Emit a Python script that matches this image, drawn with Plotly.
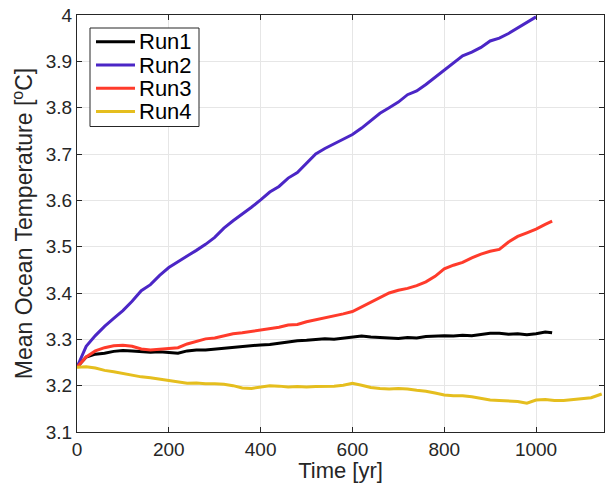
import plotly.graph_objects as go

run1_x = [0,20,40,60,80,100,120,140,160,180,200,220,240,260,280,300,320,340,360,380,400,420,440,460,480,500,520,540,560,580,600,620,640,660,680,700,720,740,760,780,800,820,840,860,880,900,920,940,960,980,1000,1020,1035]
run1_y = [3.240,3.262,3.268,3.270,3.274,3.276,3.275,3.274,3.272,3.273,3.271,3.270,3.275,3.277,3.277,3.279,3.280,3.283,3.284,3.286,3.288,3.289,3.292,3.294,3.297,3.298,3.299,3.301,3.300,3.302,3.305,3.307,3.305,3.304,3.303,3.302,3.304,3.303,3.306,3.307,3.308,3.307,3.309,3.308,3.310,3.313,3.313,3.311,3.312,3.310,3.312,3.316,3.314]

run2_x = [0,20,40,60,80,100,120,140,160,180,200,220,240,260,280,300,320,340,360,380,400,420,440,460,480,500,520,540,560,580,600,620,640,660,680,700,720,740,760,780,800,820,840,860,880,900,920,940,960,980,1000]
run2_y = [3.240,3.285,3.308,3.328,3.345,3.362,3.382,3.405,3.418,3.438,3.455,3.468,3.480,3.492,3.505,3.520,3.540,3.556,3.570,3.585,3.601,3.618,3.630,3.648,3.660,3.680,3.700,3.712,3.722,3.732,3.742,3.756,3.772,3.788,3.800,3.812,3.828,3.836,3.850,3.866,3.880,3.897,3.912,3.920,3.930,3.944,3.950,3.960,3.972,3.985,3.996]

run3_x = [0,20,40,60,80,100,120,140,160,180,200,220,240,260,280,300,320,340,360,380,400,420,440,460,480,500,520,540,560,580,600,620,640,660,680,700,720,740,760,780,800,820,840,860,880,900,920,940,960,980,1000,1020,1035]
run3_y = [3.240,3.262,3.275,3.282,3.286,3.287,3.285,3.279,3.277,3.279,3.280,3.282,3.290,3.296,3.301,3.303,3.307,3.312,3.314,3.317,3.320,3.322,3.326,3.331,3.332,3.338,3.342,3.346,3.350,3.355,3.360,3.370,3.380,3.390,3.400,3.406,3.410,3.416,3.424,3.436,3.452,3.460,3.466,3.476,3.484,3.490,3.494,3.510,3.522,3.530,3.538,3.548,3.555]

run4_x = [0,20,40,60,80,100,120,140,160,180,200,220,240,260,280,300,320,340,360,380,400,420,440,460,480,500,520,540,560,580,600,620,640,660,680,700,720,740,760,780,800,820,840,860,880,900,920,940,960,980,1000,1020,1040,1060,1080,1100,1120,1143]
run4_y = [3.240,3.241,3.238,3.233,3.230,3.226,3.222,3.219,3.217,3.214,3.212,3.208,3.205,3.206,3.204,3.204,3.203,3.200,3.195,3.194,3.197,3.200,3.199,3.197,3.198,3.197,3.198,3.198,3.199,3.201,3.205,3.201,3.196,3.194,3.193,3.194,3.193,3.190,3.188,3.184,3.180,3.178,3.178,3.176,3.172,3.169,3.168,3.167,3.166,3.162,3.169,3.170,3.168,3.168,3.170,3.172,3.174,3.182]

names = ["Run1", "Run2", "Run3", "Run4"]
colors = ["#000000", "#4B26C6", "#FF3B2B", "#E5BE1E"]
xs = [run1_x, run2_x, run3_x, run4_x]
ys = [run1_y, run2_y, run3_y, run4_y]

x_ticks = [0, 200, 400, 600, 800, 1000]
y_ticks = [3.1, 3.2, 3.3, 3.4, 3.5, 3.6, 3.7, 3.8, 3.9, 4.0]
y_tick_labels = ["3.1", "3.2", "3.3", "3.4", "3.5", "3.6", "3.7", "3.8", "3.9", "4"]

W, H = 607, 483
ML, MR, MT, MB = 77, 3, 15, 51
PW, PH = W - ML - MR, H - MT - MB
FONT = "Liberation Sans, Arial, sans-serif"
INK = "#262626"


def px2paper(px, py):
    return (px - ML) / PW, (H - MB - py) / PH


fig = go.Figure()
for x, y, n, c in zip(xs, ys, names, colors):
    fig.add_trace(go.Scatter(x=x, y=y, name=n, mode="lines",
                             line=dict(color=c, width=3), showlegend=False))

axis_common = dict(
    showline=True, linecolor=INK, linewidth=1, mirror="ticks",
    ticks="inside", ticklen=5, tickcolor=INK, automargin=False,
    showgrid=True, gridcolor="#e6e6e6", gridwidth=1, zeroline=False,
    tickfont=dict(family=FONT, size=19, color=INK),
)

# legend (box, sample lines, labels)
shapes = []
annotations = []
bx0, by0 = px2paper(90, 126.5)
bx1, by1 = px2paper(199, 28)
shapes.append(dict(type="rect", xref="paper", yref="paper", x0=bx0, y0=by0, x1=bx1, y1=by1,
                   line=dict(color=INK, width=1), fillcolor="white", layer="above"))
for i, (n, c) in enumerate(zip(names, colors)):
    cy = 41.7 + i * 23.3
    lx0, ly = px2paper(96, cy)
    lx1, _ = px2paper(135, cy)
    shapes.append(dict(type="line", xref="paper", yref="paper", x0=lx0, x1=lx1, y0=ly, y1=ly,
                       line=dict(color=c, width=3), layer="above"))
    tx, _ = px2paper(137, cy)
    annotations.append(dict(text=n, xref="paper", yref="paper", x=tx, y=ly,
                            xanchor="left", yanchor="middle", showarrow=False,
                            font=dict(family=FONT, size=22, color="black")))

fig.update_layout(
    width=W, height=H,
    margin=dict(l=ML, r=MR, t=MT, b=MB),
    paper_bgcolor="white", plot_bgcolor="white",
    font=dict(family=FONT, color=INK),
    xaxis=dict(range=[0, 1148], tickvals=x_ticks,
               title=dict(text="Time [yr]", font=dict(family=FONT, size=22, color=INK), standoff=2),
               **axis_common),
    yaxis=dict(range=[3.1, 4.0], tickvals=y_ticks, ticktext=y_tick_labels,
               title=dict(text="Mean Ocean Temperature [<sup>o</sup>C]",
                          font=dict(family=FONT, size=23, color=INK), standoff=6),
               **axis_common),
    shapes=shapes,
    annotations=annotations,
    showlegend=False,
)

fig.write_html("out.html", config={"displayModeBar": False},
               post_script="document.body.style.margin='0';document.body.style.overflow='hidden';")
